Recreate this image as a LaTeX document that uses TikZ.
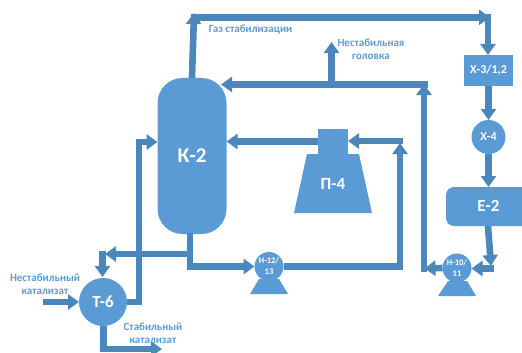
\documentclass[tikz,border=0pt]{standalone}
\usepackage{fontspec}
\setmainfont{Carlito}
\usetikzlibrary{arrows.meta}
\definecolor{eq}{HTML}{5B9BD5}
\definecolor{pipe}{HTML}{4C87BC}
\tikzset{
  x=1pt,y=-1pt,
  equip/.style={fill=eq,draw=none,inner sep=0pt,outer sep=0pt,text=white,font=\bfseries,align=center},
  tag/.style={text=eq,font=\bfseries\fontsize{11}{13.5}\selectfont,align=center,inner sep=0pt},
  pipeline/.style={draw=pipe,line width=6.6pt,line cap=butt,line join=miter},
  flow/.style={pipeline,-{Triangle[width=15pt,length=11pt]}},
}
\begin{document}
\begin{tikzpicture}
\useasboundingbox (0,0) rectangle (522,353);
% equipment
\node[equip,minimum width=69pt,minimum height=156pt,rounded corners=25pt,font=\bfseries\fontsize{21}{24}\selectfont] (k2) at (192,156) {К-2};
\node[equip,circle,minimum size=48pt,font=\bfseries\fontsize{17}{18}\selectfont] (t6) at (103,302) {Т-6};
\node[equip,minimum width=49pt,minimum height=31pt,font=\bfseries\fontsize{12}{13}\selectfont] (x3) at (488.5,70.5) {Х-3/1,2};
\node[equip,circle,minimum size=34pt,font=\bfseries\fontsize{12}{13}\selectfont] (x4) at (488.5,137) {Х-4};
\node[equip,minimum width=84pt,minimum height=39pt,rounded corners=8pt] (e2) at (488,206.5) {};
\node[text=white,font=\bfseries\fontsize{17}{18}\selectfont,inner sep=0pt] (e2t) at (488.5,206) {Е-2};
\node[equip,minimum width=30pt,minimum height=25pt] (p4top) at (333,141.5) {};
\fill[eq] (307,154) -- (359,154) -- (372,213) -- (294,213) -- cycle;
\node[text=white,font=\bfseries\fontsize{17}{18}\selectfont,inner sep=0pt] (p4) at (333,184) {П-4};
\fill[eq] (259,279) -- (279,279) -- (288,294) -- (250,294) -- cycle;
\fill[eq] (448,281) -- (467,281) -- (476,296) -- (438,296) -- cycle;
% free ends and junctions
\coordinate (gasBase) at (192,78);
\coordinate (gasUp) at (194,13);
\coordinate (gasCorner) at (191,17.3);
\coordinate (gasTip) at (490,17.3);
\coordinate (gasDown) at (488,14);
\coordinate (refluxTip) at (221,84.5);
\coordinate (refluxStart) at (427.5,84.5);
\coordinate (headBranch) at (331.5,84.5);
\coordinate (headTip) at (331.5,42);
\coordinate (h10outTip) at (424.5,268.5);
\coordinate (riseBase) at (424,271.5);
\coordinate (riseTip) at (424,84);
\coordinate (e2foot) at (491,266);
\coordinate (e2corner) at (494,268.5);
\coordinate (k2foot) at (190,233);
\coordinate (k2split) at (190,254);
\coordinate (leftTip) at (105,254);
\coordinate (leftCorner) at (102.5,251);
\coordinate (leftDown) at (102.5,277);
\coordinate (feedStart) at (43,302);
\coordinate (riser) at (139,302);
\coordinate (k2in) at (139,142);
\coordinate (t6foot) at (103.5,326);
\coordinate (prodTip) at (162,349);
\coordinate (h12Tip) at (400,143);
\coordinate (p4in) at (403.3,141);
\node[equip,circle,minimum size=29pt,font=\bfseries\fontsize{8.5}{11}\selectfont] (h12) at (269,266.5) {Н-12/\\13};
\node[equip,circle,minimum size=29pt,font=\bfseries\fontsize{8.5}{11}\selectfont] (h10) at (457,268) {Н-10/\\11};
% connectors
\draw[flow] (gasBase) -- (gasUp);
\draw[flow] (gasCorner) -- (gasTip);
\draw[flow] (gasDown) -- (x3.north -| gasDown);
\draw[flow] (x3.south) -- (x4.north);
\draw[flow] (x4.south) -- (e2.north -| x4.south);
\draw[flow] (e2.south -| 488,0) -- (e2foot);
\draw[flow] (e2corner) -- (h10.east |- e2corner);
\draw[flow] (h10.west) -- (h10outTip);
\draw[flow] (riseBase) -- (riseTip);
\draw[flow] (refluxStart) -- (refluxTip);
\draw[flow] (headBranch) -- (headTip);
\draw[flow] (p4top.west) -- (k2.east |- p4top.west);
\draw[flow] (p4in) -- (p4top.east |- p4in);
\draw[flow] (h12.east) -| (h12Tip);
\draw[flow] (k2foot) |- (h12.west);
\draw[flow] (k2split) -- (leftTip);
\draw[flow] (leftCorner) -- (leftDown);
\draw[flow] (feedStart) -- (t6.west);
\draw[flow] (t6.east) -- (riser) -- (k2in) -- (k2.west |- k2in);
\draw[flow] (t6foot) |- (prodTip);
% labels
\node[tag] (l1) at (250.5,29.5) {Газ стабилизации};
\node[tag] (l2) at (371,49.5) {Нестабильная\\головка};
\node[tag] (l3) at (45,284) {Нестабильный\\катализат};
\node[tag] (l4) at (153,333) {Стабильный\\катализат};
\end{tikzpicture}
\end{document}
